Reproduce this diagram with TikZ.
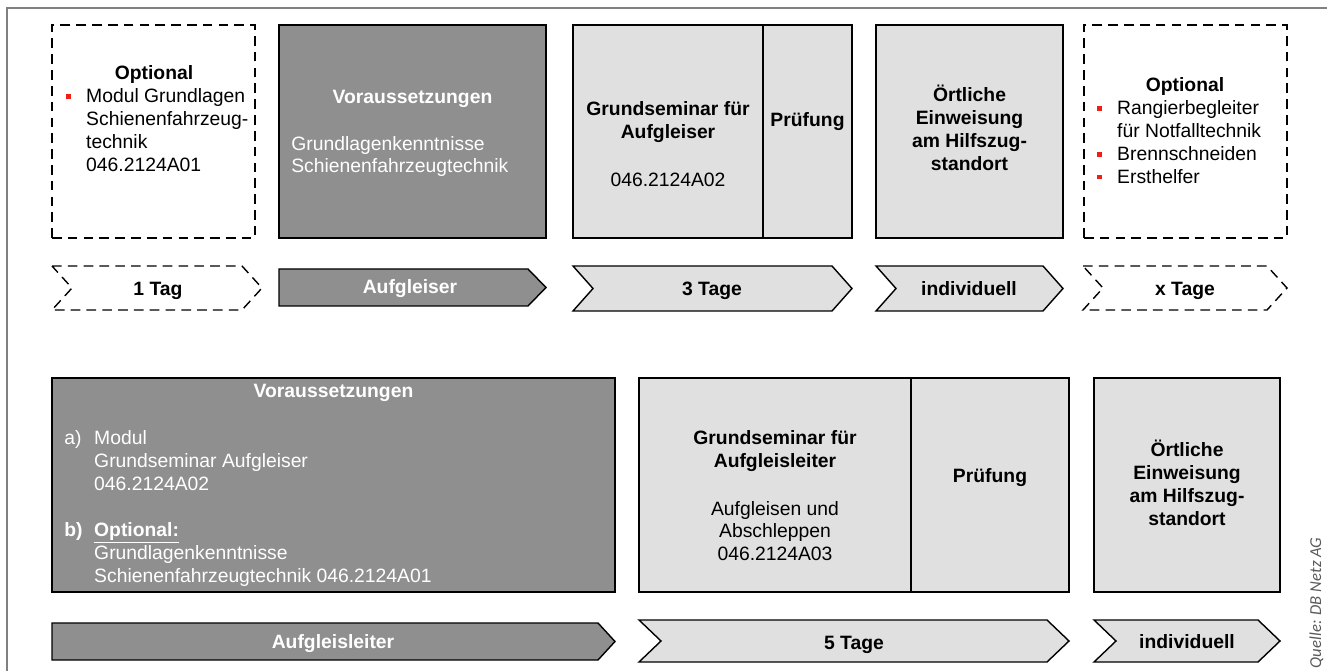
\documentclass[tikz,border=0pt]{standalone}
\usepackage{fontspec}
\setmainfont{Liberation Sans}
\newfontfamily\quellfont{Carlito}
\usetikzlibrary{fit}

\definecolor{dunkelgrau}{RGB}{143,143,143}
\definecolor{hellgrau}{RGB}{224,224,224}
\definecolor{bulletrot}{RGB}{240,30,20}
\definecolor{rahmengrau}{RGB}{128,128,128}
\definecolor{quellgrau}{RGB}{90,90,90}

\newcommand{\bul}{\makebox[11.3pt][l]{\textcolor{bulletrot}{\rule[2.3pt]{2.8pt}{2.8pt}}}}

\tikzset{
  optbox/.style={draw=black, dash pattern=on 5.5pt off 3.5pt, line width=0.8pt, inner sep=0pt, outer sep=0pt},
  dunkelbox/.style={draw=black, fill=dunkelgrau, line width=0.8pt, inner sep=0pt, outer sep=0pt},
  hellbox/.style={draw=black, fill=hellgrau, line width=0.8pt, inner sep=0pt, outer sep=0pt},
  txt/.style={font=\fontsize{11}{13}\selectfont, inner sep=0pt, anchor=base},
  weiss/.style={txt, text=white},
}

\begin{document}
\begin{tikzpicture}[x=0.02cm, y=-0.02cm]
\useasboundingbox (0,0) rectangle (1327,671);

% Rahmen oben und links
\draw[rahmengrau, line width=1.2pt] (7,671) -- (7,8) -- (1327,8);

% Obere Reihe: Aufgleiser
\node[optbox, fit={(52,25) (255,238)}] (opt1) {};
\node[dunkelbox, fit={(279,25) (546,238)}] (vor1) {};
\node[hellbox, fit={(573,25) (763,238)}] (gs1) {};
\node[hellbox, fit={(763,25) (852,238)}] (pr1) {};
\node[hellbox, fit={(876,25) (1063,238)}] (ort1) {};
\node[optbox, fit={(1084,25) (1287,238)}] (opt2) {};

\node[txt, font=\fontsize{11}{13}\selectfont\bfseries] (opt1k) at (154,80) {Optional};
\node[txt, anchor=base west] (opt1l) at (66,103)
  {\begin{tabular}[t]{@{}l@{}}\bul Modul Grundlagen\\ \hspace*{11.3pt}Schienenfahrzeug-\\ \hspace*{11.3pt}technik\\ \hspace*{11.3pt}046.2124A01\end{tabular}};

\node[weiss, font=\fontsize{11}{13}\selectfont\bfseries] (vor1k) at (412.5,104) {Voraussetzungen};
\node[weiss, anchor=base west] (vor1l) at (291,151)
  {\begin{tabular}[t]{@{}l@{}}Grundlagenkenntnisse\\[-1pt] Schienenfahrzeugtechnik\end{tabular}};

\node[txt, font=\fontsize{11}{13}\selectfont\bfseries] (gs1k) at (668,116)
  {\begin{tabular}[t]{@{}c@{}}Grundseminar für\\ Aufgleiser\end{tabular}};
\node[txt] (gs1n) at (668,187) {046.2124A02};
\node[txt, font=\fontsize{11}{13}\selectfont\bfseries] (pr1k) at (807.5,127) {Prüfung};

\node[txt, font=\fontsize{11}{13}\selectfont\bfseries] (ort1k) at (969.5,102)
  {\begin{tabular}[t]{@{}c@{}}Örtliche\\ Einweisung\\ am Hilfszug-\\ standort\end{tabular}};

\node[txt, font=\fontsize{11}{13}\selectfont\bfseries] (opt2k) at (1185,92) {Optional};
\node[txt, anchor=base west] (opt2l) at (1097,115)
  {\begin{tabular}[t]{@{}l@{}}\bul Rangierbegleiter\\ \hspace*{11.3pt}für Notfalltechnik\\ \bul Brennschneiden\\ \bul Ersthelfer\end{tabular}};

% Pfeile obere Reihe
\draw[optbox] (52,266) -- (242,266) -- (262,288) -- (242,310) -- (52,310) -- (72,288) -- cycle;
\draw[dunkelbox] (279,269) -- (528,269) -- (546,287.5) -- (528,306) -- (279,306) -- cycle;
\draw[hellbox] (573,266) -- (832,266) -- (852,288.5) -- (832,311) -- (573,311) -- (593,288.5) -- cycle;
\draw[hellbox] (876,266) -- (1043,266) -- (1063,288.5) -- (1043,311) -- (876,311) -- (896,288.5) -- cycle;
\draw[optbox] (1083,266) -- (1267,266) -- (1287,288) -- (1267,310) -- (1083,310) -- (1103,288) -- cycle;

\node[txt, font=\fontsize{11}{13}\selectfont\bfseries] (d1) at (158,296) {1 Tag};
\node[weiss, font=\fontsize{11}{13}\selectfont\bfseries] (d2) at (410,294) {Aufgleiser};
\node[txt, font=\fontsize{11}{13}\selectfont\bfseries] (d3) at (712,296) {3 Tage};
\node[txt, font=\fontsize{11}{13}\selectfont\bfseries] (d4) at (969,296) {individuell};
\node[txt, font=\fontsize{11}{13}\selectfont\bfseries] (d5) at (1185,296) {x Tage};

% Untere Reihe: Aufgleisleiter
\node[dunkelbox, fit={(52,378) (615,592)}] (vor2) {};
\node[hellbox, fit={(639,378) (911,592)}] (gs2) {};
\node[hellbox, fit={(911,378) (1069,592)}] (pr2) {};
\node[hellbox, fit={(1094,378) (1280,592)}] (ort2) {};

\node[weiss, font=\fontsize{11}{13}\selectfont\bfseries] (vor2k) at (333.5,398) {Voraussetzungen};
\node[weiss, anchor=base west] (vor2l) at (64,445)
  {\begin{tabular}[t]{@{}p{17pt}@{}l@{}}a) & Modul\\ & Grundseminar Aufgleiser\\ & 046.2124A02\\ & \\
   \textbf{b)} & \textbf{\underline{Optional:}}\\ & Grundlagenkenntnisse\\ & Schienenfahrzeugtechnik 046.2124A01\end{tabular}};

\node[txt, font=\fontsize{11}{13}\selectfont\bfseries] (gs2k) at (775,445)
  {\begin{tabular}[t]{@{}c@{}}Grundseminar für\\ Aufgleisleiter\end{tabular}};
\node[txt] (gs2l) at (775,515)
  {\begin{tabular}[t]{@{}c@{}}Aufgleisen und\\ Abschleppen\\ 046.2124A03\end{tabular}};
\node[txt, font=\fontsize{11}{13}\selectfont\bfseries] (pr2k) at (990,482) {Prüfung};

\node[txt, font=\fontsize{11}{13}\selectfont\bfseries] (ort2k) at (1187,457)
  {\begin{tabular}[t]{@{}c@{}}Örtliche\\ Einweisung\\ am Hilfszug-\\ standort\end{tabular}};

% Pfeile untere Reihe
\draw[dunkelbox] (52,623) -- (598,623) -- (615,641.5) -- (598,660) -- (52,660) -- cycle;
\draw[hellbox] (639,620) -- (1047,620) -- (1069,641) -- (1047,662) -- (639,662) -- (661,641) -- cycle;
\draw[hellbox] (1094,620) -- (1258,620) -- (1280,641) -- (1258,662) -- (1094,662) -- (1116,641) -- cycle;

\node[weiss, font=\fontsize{11}{13}\selectfont\bfseries] (d6) at (333,648) {Aufgleisleiter};
\node[txt, font=\fontsize{11}{13}\selectfont\bfseries] (d7) at (854,649) {5 Tage};
\node[txt, font=\fontsize{11}{13}\selectfont\bfseries] (d8) at (1187,648) {individuell};

% Quelle am rechten Rand
\node[inner sep=0pt, anchor=base, rotate=90, text=quellgrau, font=\quellfont\itshape\fontsize{9.5}{11}\selectfont] (quelle) at (1321,603) {Quelle: DB Netz AG};
\end{tikzpicture}
\end{document}
